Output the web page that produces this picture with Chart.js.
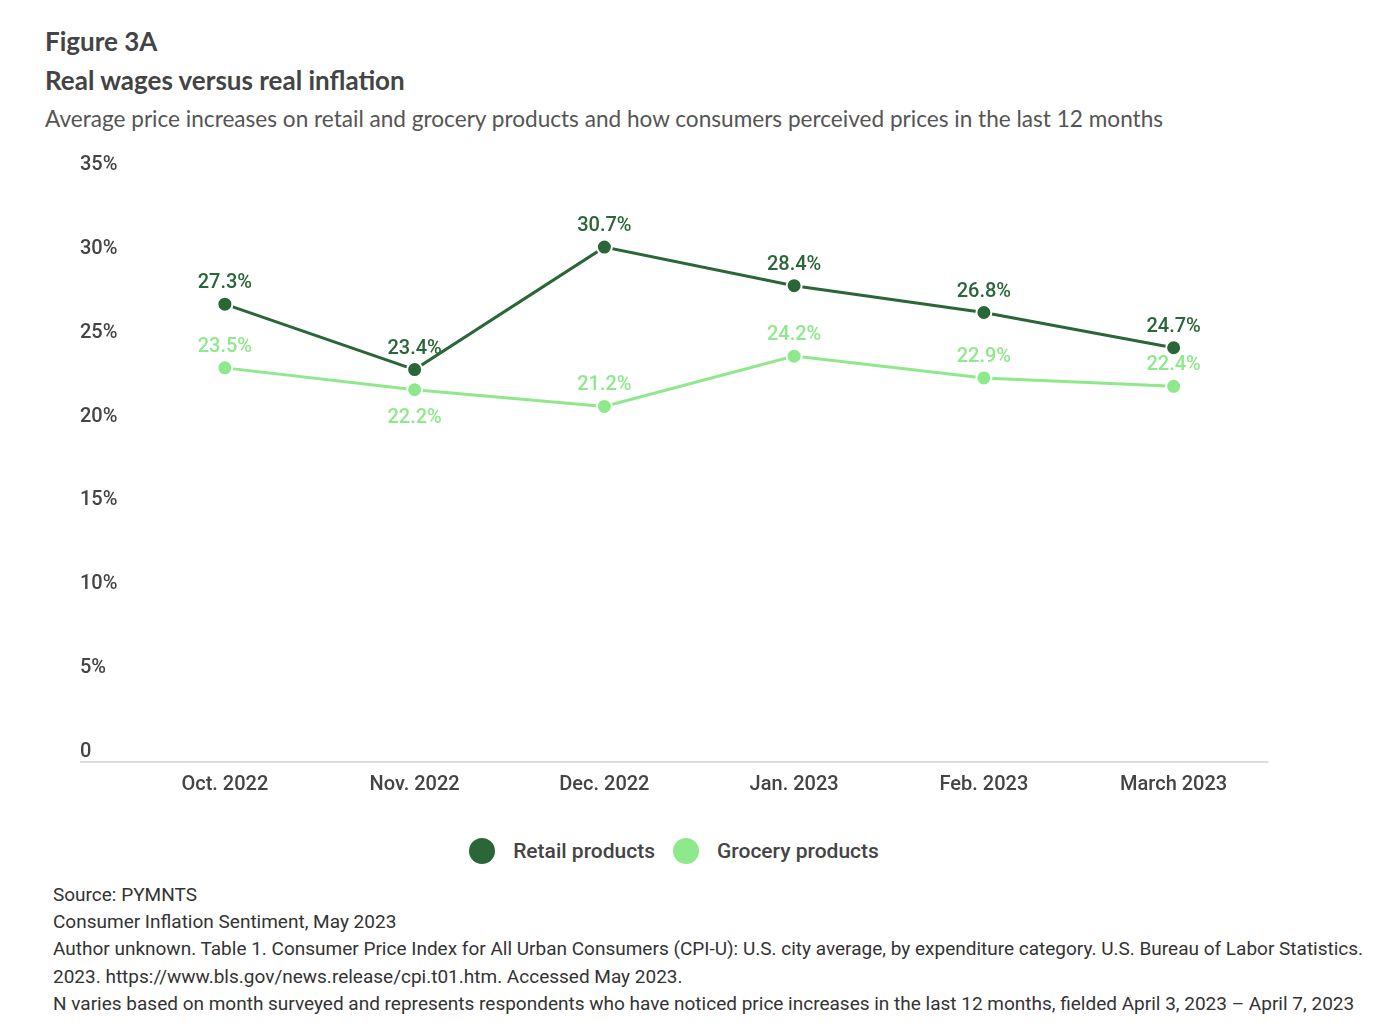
<!DOCTYPE html>
<html>
<head>
<meta charset="utf-8">
<script src="https://cdn.jsdelivr.net/npm/chart.js@4.4.0/dist/chart.umd.min.js"></script>
<style>
  html, body { margin: 0; padding: 0; background: #fff; }
  body { width: 1386px; height: 1026px; position: relative; overflow: hidden; }
  .t1, .t2, .t3 { position: absolute; left: 45px; color: #444; font-family: Lato, sans-serif; white-space: nowrap; }
  .t1 { top: 25px; font-size: 26px; font-weight: bold; }
  .t2 { top: 64px; font-size: 26px; font-weight: bold; }
  .t3 { top: 105px; font-size: 22.6px; color: #555; }
  #wrap { position: absolute; left: 80px; top: 140px; width: 1198px; height: 662px; }
  #legend { position: absolute; top: 838px; left: 0; width: 1348px; text-align: center; font-family: Roboto, sans-serif; font-size: 21px; font-weight: 500; color: #444; }
  #legend span.item { display: inline-flex; align-items: center; margin: 0 9px; }
  #legend span.dot { width: 26px; height: 26px; border-radius: 50%; display: inline-block; margin-right: 18px; }
  #foot { position: absolute; left: 53px; top: 881px; font-family: Roboto, sans-serif; font-size: 19px; line-height: 27.2px; color: #333; white-space: nowrap; }
</style>
</head>
<body>
<div class="t1">Figure 3A</div>
<div class="t2">Real wages versus real inflation</div>
<div class="t3">Average price increases on retail and grocery products and how consumers perceived prices in the last 12 months</div>
<div id="wrap"><canvas id="chart"></canvas></div>
<div id="legend"></div>
<div id="foot">
Source: PYMNTS<br>
Consumer Inflation Sentiment, May 2023<br>
Author unknown. Table 1. Consumer Price Index for All Urban Consumers (CPI-U): U.S. city average, by expenditure category. U.S. Bureau of Labor Statistics.<br>
2023. https://www.bls.gov/news.release/cpi.t01.htm. Accessed May 2023.<br>
N varies based on month surveyed and represents respondents who have noticed price increases in the last 12 months, fielded April 3, 2023 – April 7, 2023
</div>
<script>
// data
const months = ["Oct. 2022", "Nov. 2022", "Dec. 2022", "Jan. 2023", "Feb. 2023", "March 2023"];
const retail = [27.3, 23.4, 30.7, 28.4, 26.8, 24.7];
const grocery = [23.5, 22.2, 21.2, 24.2, 22.9, 22.4];
const yTicks = [0, 5, 10, 15, 20, 25, 30, 35];

const DARK = "#2a6637";
const LIGHT = "#8ee88c";

// value labels above / below the points
const valueLabels = {
    id: "valueLabels",
    afterDatasetsDraw(chart) {
        const ctx = chart.ctx;
        ctx.save();
        ctx.font = "500 20px Roboto";
        ctx.textAlign = "center";
        ctx.textBaseline = "middle";
        chart.data.datasets.forEach((ds, i) => {
            const meta = chart.getDatasetMeta(i);
            meta.data.forEach((pt, j) => {
                const below = ds.labelBelow && ds.labelBelow[j];
                ctx.fillStyle = ds.borderColor;
                ctx.fillText(ds.data[j].toFixed(1) + "%", pt.x, pt.y + (below ? 28 : -21));
            });
        });
        ctx.restore();
    }
};

// baseline under the plot
const baseLine = {
    id: "baseLine",
    beforeDatasetsDraw(chart) {
        const ctx = chart.ctx;
        const y = chart.scales.y.getPixelForValue(0);
        ctx.save();
        ctx.strokeStyle = "#dddddd";
        ctx.lineWidth = 2;
        ctx.beginPath();
        ctx.moveTo(chart.scales.y.left, y);
        ctx.lineTo(chart.chartArea.right, y);
        ctx.stroke();
        ctx.restore();
    }
};

const chart = new Chart(document.getElementById("chart"), {
    type: "line",
    data: {
        labels: months,
        datasets: [
            {
                label: "Retail products",
                data: retail,
                borderColor: DARK,
                backgroundColor: DARK,
                borderWidth: 3,
                pointRadius: 7.5,
                pointBorderWidth: 2,
                pointBorderColor: "#fff",
                pointBackgroundColor: DARK
            },
            {
                label: "Grocery products",
                data: grocery,
                borderColor: LIGHT,
                backgroundColor: LIGHT,
                borderWidth: 3,
                pointRadius: 7.5,
                pointBorderWidth: 2,
                pointBorderColor: "#fff",
                pointBackgroundColor: LIGHT,
                labelBelow: [false, true, false, false, false, false]
            }
        ]
    },
    options: {
        responsive: true,
        maintainAspectRatio: false,
        animation: false,
        layout: { padding: { top: 35, right: 2, left: 0, bottom: 0 } },
        plugins: {
            legend: { display: false },
            tooltip: { enabled: false }
        },
        scales: {
            x: {
                offset: true,
                grid: { display: false, drawTicks: false },
                border: { display: false },
                ticks: {
                    padding: 11,
                    color: "#444",
                    font: { family: "Roboto", size: 20, weight: "500" }
                },
                afterFit(scale) { scale.height = 40; }
            },
            y: {
                min: 0,
                max: 35,
                grid: { display: false, drawTicks: false },
                border: { display: false },
                afterBuildTicks(scale) { scale.ticks = yTicks.map(v => ({ value: v })); },
                ticks: {
                    padding: 0,
                    crossAlign: "far",
                    labelOffset: -10,
                    color: "#444",
                    font: { family: "Roboto", size: 20, weight: "500" },
                    callback: v => v === 0 ? "0" : v + "%"
                },
                afterFit(scale) { scale.width = 50; }
            }
        }
    },
    plugins: [baseLine, valueLabels]
});

// legend
const legend = document.getElementById("legend");
chart.data.datasets.forEach(ds => {
    const item = document.createElement("span");
    item.className = "item";
    item.innerHTML = '<span class="dot" style="background:' + ds.backgroundColor + '"></span>' + ds.label;
    legend.appendChild(item);
});
</script>
</body>
</html>
